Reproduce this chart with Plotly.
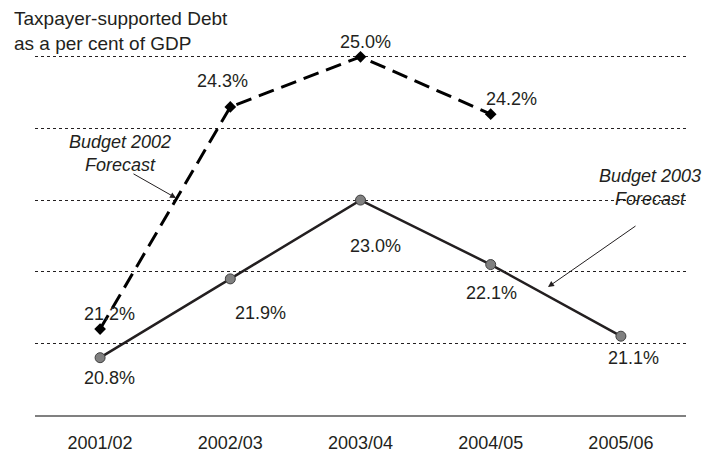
import plotly.graph_objects as go

years = ["2001/02", "2002/03", "2003/04", "2004/05", "2005/06"]
budget2002 = [21.2, 24.3, 25.0, 24.2]
budget2003 = [20.8, 21.9, 23.0, 22.1, 21.1]
labels2002 = ["21.2%", "24.3%", "25.0%", "24.2%"]
labels2003 = ["20.8%", "21.9%", "23.0%", "22.1%", "21.1%"]
grid_vals = [21, 22, 23, 24, 25]

# pixel offsets for value labels
off2002 = [(9, 15), (-8, 26), (5, 15), (21, 15)]
off2003 = [(9, -20), (30, -34), (15, -46), (1, -28), (13, -22)]

FONT = "Liberation Sans, Arial, sans-serif"
DARK = "#231f20"
FS = 18

xs = list(range(len(years)))

fig = go.Figure()
fig.add_trace(go.Scatter(
    x=xs[:len(budget2002)], y=budget2002, mode="lines+markers",
    line=dict(color="black", width=3, dash="16px,8px"),
    marker=dict(symbol="diamond", size=9, color="black"),
    showlegend=False, hoverinfo="skip"))
fig.add_trace(go.Scatter(
    x=xs, y=budget2003, mode="lines+markers",
    line=dict(color=DARK, width=2.5),
    marker=dict(symbol="circle", size=10, color="#808080",
                line=dict(color="#404040", width=1)),
    showlegend=False, hoverinfo="skip"))

annotations = []
for i, (v, t) in enumerate(zip(budget2002, labels2002)):
    annotations.append(dict(x=xs[i], y=v, text=t, showarrow=False,
                            xshift=off2002[i][0], yshift=off2002[i][1],
                            font=dict(size=FS, color=DARK, family=FONT)))
for i, (v, t) in enumerate(zip(budget2003, labels2003)):
    annotations.append(dict(x=xs[i], y=v, text=t, showarrow=False,
                            xshift=off2003[i][0], yshift=off2003[i][1],
                            font=dict(size=FS, color=DARK, family=FONT)))

# series call-outs
annotations.append(dict(xref="paper", yref="paper", x=(120 - 35) / 651, y=(415 - 154) / 394,
                        xanchor="center", yanchor="middle",
                        text="<i>Budget 2002</i><br><i>Forecast</i>", showarrow=False,
                        align="center", font=dict(size=FS, color=DARK, family=FONT)))
annotations.append(dict(xref="paper", yref="paper", x=(650 - 35) / 651, y=(415 - 187) / 394,
                        xanchor="center", yanchor="middle",
                        text="<i>Budget 2003</i><br><i>Forecast</i>", showarrow=False,
                        align="center", font=dict(size=FS, color=DARK, family=FONT)))
annotations.append(dict(xref="paper", yref="paper", x=(176 - 35) / 651, y=(415 - 198) / 394,
                        ax=-44, ay=-25, text="", showarrow=True,
                        arrowhead=2, arrowsize=1.2, arrowwidth=1, arrowcolor=DARK))
annotations.append(dict(xref="paper", yref="paper", x=(548 - 35) / 651, y=(415 - 287) / 394,
                        ax=89, ay=-62, text="", showarrow=True,
                        arrowhead=2, arrowsize=1.2, arrowwidth=1, arrowcolor=DARK))
# title
annotations.append(dict(xref="paper", yref="paper", x=(12 - 35) / 651, y=(415 - 6) / 394,
                        xanchor="left", yanchor="top", align="left",
                        text="Taxpayer-supported Debt<br>as a per cent of GDP", showarrow=False,
                        font=dict(size=19, color=DARK, family=FONT)))

fig.update_layout(
    template="none",
    width=706, height=453,
    margin=dict(l=35, r=20, t=21, b=38, autoexpand=False),
    paper_bgcolor="white", plot_bgcolor="white",
    annotations=annotations,
    xaxis=dict(range=[-0.5, 4.5], tickvals=xs, ticktext=years, automargin=False,
               showgrid=False, zeroline=False,
               showline=True, linecolor="#808080", linewidth=2,
               ticks="outside", ticklen=10, tickcolor="rgba(0,0,0,0)",
               tickfont=dict(size=FS, color=DARK, family=FONT)),
    yaxis=dict(range=[20, 25.5], tickvals=grid_vals, showticklabels=False, automargin=False,
               showgrid=True, gridcolor=DARK, gridwidth=1, griddash="dot",
               zeroline=False, showline=False),
)

fig.write_html("out.html", config={"displayModeBar": False},
               post_script="document.body.style.margin='0px';document.body.style.padding='0px';")
